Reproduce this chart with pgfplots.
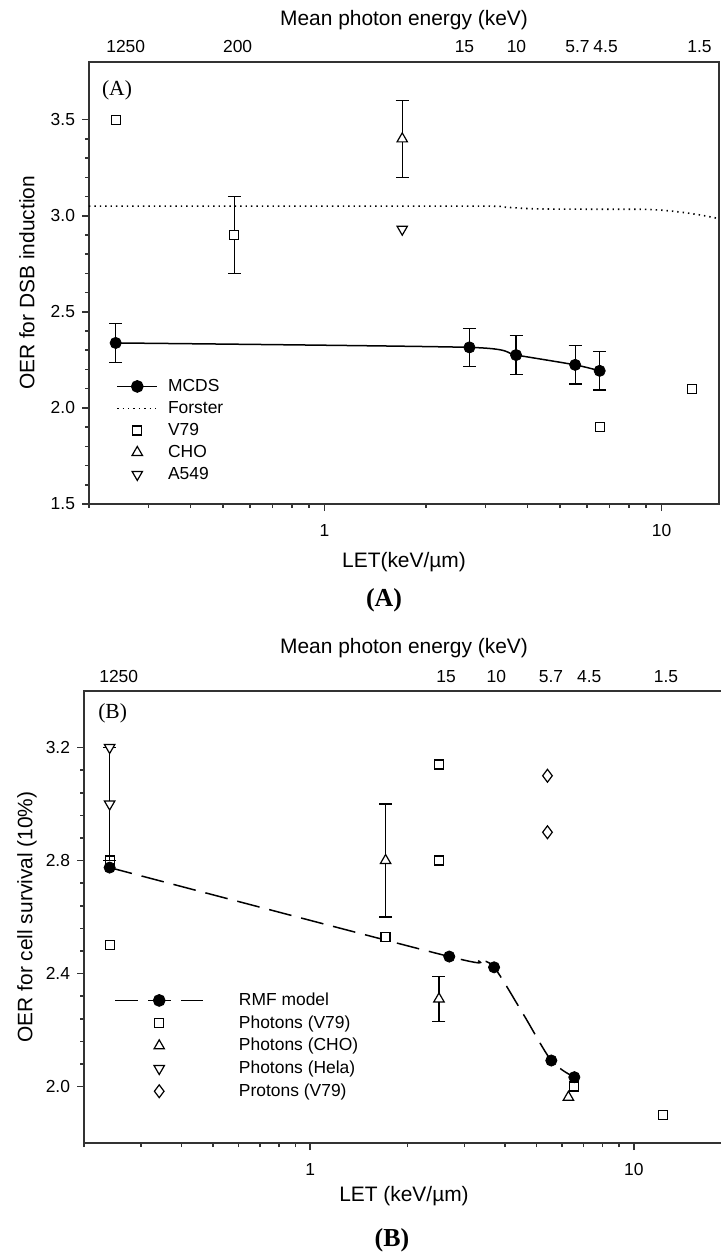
\documentclass[border=0pt]{standalone}
\usepackage{pgfplots}
\pgfplotsset{compat=1.18}
\usepackage{fontspec}
\setmainfont{Liberation Sans}
\newfontfamily\serif{Liberation Serif}
\tikzset{
  sq/.style={only marks, mark=square*, mark size=2.25bp, mark options={fill=white, line width=0.6bp, solid}},
  tu/.style={only marks, mark=triangle*, mark size=3bp, mark options={fill=white, line width=0.6bp, solid}},
  td/.style={only marks, mark=triangle*, mark size=3bp, mark options={fill=white, rotate=180, line width=0.6bp, solid}},
  dm/.style={only marks, mark=diamond*, mark size=3.2bp, mark options={fill=white, line width=0.6bp, solid}},
  dt/.style={only marks, mark=*, mark size=2.8bp, mark options={fill=black, solid}},
  lab/.style={font=\fontsize{8.75}{10}\selectfont, anchor=base},
}
\begin{document}
\begin{tikzpicture}
\useasboundingbox (0,0) rectangle (360.5bp,-627bp);

% ---------------- Panel A ----------------
\begin{axis}[
  scale only axis, xmode=log, clip mode=individual,
  at={(44.5bp,-31bp)}, anchor=north west, width=315bp, height=221bp,
  xmin=0.2, xmax=14.8, ymin=1.5, ymax=3.8,
  axis line style={line width=1bp, black!80},
  tick style={line width=0.8bp, black!80},
  tick align=outside, major tick length=3.5bp, minor tick length=2bp,
  xtick={1,10}, xticklabels={1,10},
  minor xtick={0.2,0.3,0.4,0.5,0.6,0.7,0.8,0.9,2,3,4,5,6,7,8,9},
  xtick pos=left, ytick pos=left,
  ytick={1.5,2,2.5,3,3.5}, minor y tick num=4,
  tick label style={font=\fontsize{8.75}{10}\selectfont},
  x tick label style={yshift=-3bp},
  /pgf/number format/assume math mode=true,
  /pgf/number format/fixed, /pgf/number format/fixed zerofill, /pgf/number format/precision=1,
  label style={font=\fontsize{10.5}{12}\selectfont},
  xlabel={LET(keV/µm)}, ylabel={OER for DSB induction},
  xlabel style={at={(rel axis cs:0.5,0)}, anchor=center, yshift=-29bp},
  ylabel style={at={(rel axis cs:0,0.5)}, anchor=center, yshift=31bp},
  legend cell align=left,
  legend image code/.code={\draw[mark repeat=2,mark phase=2,#1] plot coordinates {(0bp,0bp)(10bp,0bp)(20bp,0bp)};},
  legend style={at={(rel axis cs:0.043,0.285)}, anchor=north west, row sep=3bp, column sep=5bp,
    draw=none, fill=none, font=\fontsize{8.75}{10}\selectfont, inner sep=0pt,
    nodes={inner sep=0pt, text height=6.5bp, text depth=1.5bp}},
  error bars/error bar style={line width=0.65bp, black, solid},
  error bars/error mark options={rotate=90, mark size=3.25bp, line width=0.65bp, black, solid},
]
% Forster
\addplot[black, smooth, dash pattern=on 0.7bp off 2bp, line width=0.8bp, forget plot] table {
0.2 3.05
1 3.05
3.0 3.05
3.4 3.045
4.2 3.036
6 3.034
9 3.033
11 3.022
13 3.004
14.8 2.985
};
% MCDS curve with error bars
\addplot[black, smooth, tension=0.4, line width=0.75bp, forget plot, error bars/y dir=both, error bars/y explicit] table[x=x, y=y, y error=e] {
x y e
0.24 2.338 0.1
2.69 2.315 0.1
3.70 2.275 0.1
5.54 2.224 0.1
6.55 2.193 0.1
};
% V79
\addplot[black, sq, forget plot, error bars/y dir=both, error bars/y explicit] table[x=x, y=y, y error=e] {
x y e
0.54 2.9 0.2
};
\addplot[black, sq, forget plot] table {
0.24 3.5
6.55 1.9
12.3 2.1
};
% CHO
\addplot[black, tu, forget plot, error bars/y dir=both, error bars/y explicit] table[x=x, y=y, y error=e] {
x y e
1.70 3.4 0.2
};
% A549
\addplot[black, td, forget plot] table {
1.70 2.93
};
% MCDS markers
\addplot[black, dt, forget plot] table {
0.24 2.338
2.69 2.315
3.70 2.275
5.54 2.224
6.55 2.193
};
\addlegendimage{black, mark=*, mark size=2.8bp, line width=0.75bp}
\addlegendentry{MCDS}
\addlegendimage{black, dash pattern=on 0.7bp off 2bp, line width=0.8bp}
\addlegendentry{Forster}
\addlegendimage{black, sq}
\addlegendentry{V79}
\addlegendimage{black, tu}
\addlegendentry{CHO}
\addlegendimage{black, td}
\addlegendentry{A549}
% top-axis labels (mean photon energy)
\node[lab, yshift=5bp] at (axis cs:0.257,3.8) {1250};
\node[lab, yshift=5bp] at (axis cs:0.552,3.8) {200};
\node[lab, yshift=5bp] at (axis cs:2.60,3.8) {15};
\node[lab, yshift=5bp] at (axis cs:3.71,3.8) {10};
\node[lab, yshift=5bp] at (axis cs:5.63,3.8) {5.7};
\node[lab, yshift=5bp] at (axis cs:6.82,3.8) {4.5};
\node[lab, yshift=5bp] at (axis cs:12.96,3.8) {1.5};
\node[font=\fontsize{10.5}{12}\selectfont, yshift=21bp] at (rel axis cs:0.5,1) {Mean photon energy (keV)};
\end{axis}

% ---------------- Panel B ----------------
\begin{axis}[
  scale only axis, xmode=log, clip mode=individual,
  at={(42bp,-345.5bp)}, anchor=north west, width=320bp, height=226bp,
  xmin=0.2, xmax=19.0, ymin=1.8, ymax=3.4,
  axis line style={line width=1bp, black!80},
  tick style={line width=0.8bp, black!80},
  tick align=outside, major tick length=3.5bp, minor tick length=2bp,
  xtick={1,10}, xticklabels={1,10},
  minor xtick={0.2,0.3,0.4,0.5,0.6,0.7,0.8,0.9,2,3,4,5,6,7,8,9},
  xtick pos=left, ytick pos=left,
  ytick={2.0,2.4,2.8,3.2}, minor y tick num=4,
  tick label style={font=\fontsize{8.75}{10}\selectfont},
  x tick label style={yshift=-3bp},
  /pgf/number format/assume math mode=true,
  /pgf/number format/fixed, /pgf/number format/fixed zerofill, /pgf/number format/precision=1,
  label style={font=\fontsize{10.5}{12}\selectfont},
  xlabel={LET (keV/µm)}, ylabel={OER for cell survival (10\%)},
  xlabel style={at={(rel axis cs:0.5,0)}, anchor=center, yshift=-26.5bp},
  ylabel style={at={(rel axis cs:0,0.5)}, anchor=center, yshift=28.5bp},
  legend cell align=left,
  legend image code/.code={\draw[mark repeat=2,mark phase=2,#1] plot coordinates {(0bp,0bp)(22bp,0bp)(44bp,0bp)};},
  legend style={at={(rel axis cs:0.047,0.334)}, anchor=north west, row sep=3.35bp, column sep=17.5bp,
    draw=none, fill=none, font=\fontsize{8.75}{10}\selectfont, inner sep=0pt,
    nodes={inner sep=0pt, text height=6.5bp, text depth=1.5bp}},
  error bars/error bar style={line width=0.65bp, black, solid},
  error bars/error mark options={rotate=90, mark size=3.25bp, line width=0.65bp, black, solid},
]
% RMF model curve
\addplot[black, smooth, dash pattern=on 11.5bp off 5bp, line width=0.75bp, forget plot] table {
0.24 2.775
2.69 2.46
3.3 2.448
3.70 2.422
4.55 2.257
5.56 2.092
6.55 2.033
};
% Photons (V79)
\addplot[black, sq, forget plot] table {
0.24 2.8
0.24 2.5
1.71 2.53
2.50 3.14
2.50 2.8
6.55 2.0
12.3 1.9
};
% Photons (CHO)
\addplot[black, tu, forget plot, error bars/y dir=both, error bars/y explicit] table[x=x, y=y, y error=e] {
x y e
1.71 2.8 0.2
2.50 2.31 0.08
};
\addplot[black, tu, forget plot] table {
6.28 1.962
};
% Photons (Hela)
\addplot[black, td, forget plot, error bars/y dir=both, error bars/y explicit] table[x=x, y=y, y error=e] {
x y e
0.24 3.0 0.2
};
\addplot[black, td, forget plot] table {
0.24 3.2
};
% Protons (V79)
\addplot[black, dm, forget plot] table {
5.41 3.10
5.41 2.90
};
% RMF markers
\addplot[black, dt, forget plot] table {
0.24 2.775
2.69 2.46
3.70 2.422
5.56 2.092
6.55 2.033
};
\addlegendimage{black, mark=*, mark size=2.8bp, mark options={solid}, dash pattern=on 11.5bp off 5bp, line width=0.75bp}
\addlegendentry{RMF model}
\addlegendimage{black, sq}
\addlegendentry{Photons (V79)}
\addlegendimage{black, tu}
\addlegendentry{Photons (CHO)}
\addlegendimage{black, td}
\addlegendentry{Photons (Hela)}
\addlegendimage{black, dm}
\addlegendentry{Protons (V79)}
\node[lab, yshift=4.5bp] at (axis cs:0.256,3.4) {1250};
\node[lab, yshift=4.5bp] at (axis cs:2.63,3.4) {15};
\node[lab, yshift=4.5bp] at (axis cs:3.76,3.4) {10};
\node[lab, yshift=4.5bp] at (axis cs:5.55,3.4) {5.7};
\node[lab, yshift=4.5bp] at (axis cs:7.28,3.4) {4.5};
\node[lab, yshift=4.5bp] at (axis cs:12.58,3.4) {1.5};
\node[font=\fontsize{10.5}{12}\selectfont, yshift=21.5bp] at (rel axis cs:0.5,1) {Mean photon energy (keV)};
\end{axis}

\node[font=\serif\fontsize{10.8}{12}\selectfont] at (58.5bp,-45bp) {(A)};
\node[font=\serif\fontsize{10.8}{12}\selectfont] at (56.3bp,-356.5bp) {(B)};
\node[font=\serif\bfseries\fontsize{13}{15}\selectfont] at (192bp,-300bp) {(A)};
\node[font=\serif\bfseries\fontsize{13}{15}\selectfont] at (196bp,-620bp) {(B)};
\end{tikzpicture}
\end{document}
